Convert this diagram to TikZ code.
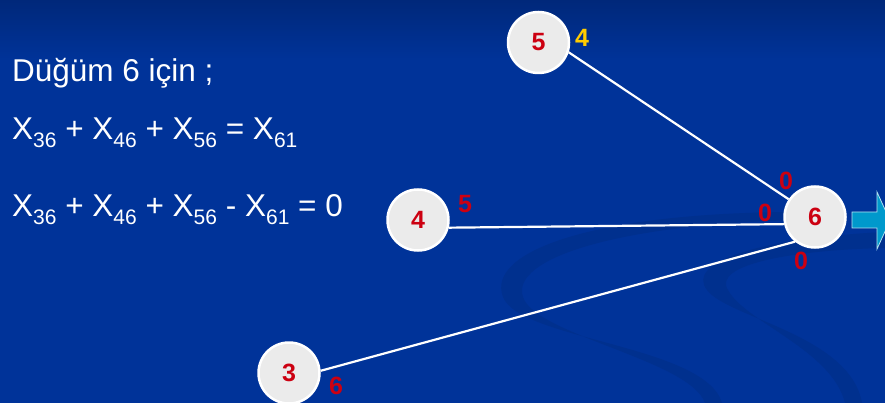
\documentclass[tikz,border=0pt]{standalone}
\usepackage{fontspec}
\setmainfont{Liberation Sans}
\definecolor{bgblue}{HTML}{003399}
\definecolor{bgtop}{HTML}{00287A}
\definecolor{swirl}{HTML}{00308E}
\definecolor{numred}{HTML}{CC0011}
\definecolor{numyellow}{HTML}{FFCC00}
\definecolor{arrowcyan}{HTML}{0099CC}
\definecolor{nodegray}{HTML}{EBEBEB}
\newcommand{\subx}[1]{\raisebox{-8pt}{\fontsize{21}{21}\selectfont #1}}
\begin{document}
\begin{tikzpicture}[x=1pt,y=-1pt,
  vertex/.style={circle,draw=white,line width=2.5pt,fill=nodegray,minimum size=61pt,inner sep=0pt,
    text=numred,font=\fontsize{25}{25}\selectfont\bfseries},
  lab/.style={inner sep=0pt,text=numred,font=\fontsize{25}{25}\selectfont\bfseries},
  edge/.style={draw=white,line width=2.2pt},
  eqtext/.style={anchor=base west,inner sep=0pt,text=white,font=\fontsize{31.5}{36}\selectfont}]
\useasboundingbox (0,0) rectangle (885,403);
% background
\fill[bgblue] (0,0) rectangle (885,403);
\shade[top color=bgtop,bottom color=bgblue] (0,0) rectangle (885,60);
% swirls
\fill[swirl] (800,212) .. controls (600,212) and (485,250) .. (503,297)
  .. controls (520,340) and (705,345) .. (722,403) -- (705,403)
  .. controls (690,360) and (535,335) .. (523,297)
  .. controls (510,258) and (620,224) .. (800,220) -- cycle;
\fill[swirl] (885,232) .. controls (760,238) and (685,262) .. (707,290)
  .. controls (728,318) and (850,335) .. (862,403) -- (845,403)
  .. controls (832,350) and (745,322) .. (728,290)
  .. controls (712,265) and (790,250) .. (885,248) -- cycle;
% texts
\node[eqtext] (t1) at (12,82) {Düğüm 6 için ;};
\node[eqtext] (t2) at (12,140) {X\subx{36} + X\subx{46} + X\subx{56} = X\subx{61}};
\node[eqtext] (t3) at (12,217) {X\subx{36} + X\subx{46} + X\subx{56} - X\subx{61} = 0};
% nodes
\node[vertex] (n5) at (538.5,42.5) {5};
\node[vertex] (n4) at (418,220) {4};
\node[vertex] (n3) at (289,373) {3};
\node[vertex] (n6) at (815,217) {6};
% edges
\draw[edge] (n5.-18) -- (n6.146);
\draw[edge] (n4.-14) -- (n6.193);
\draw[edge] (n3.4) -- (n6.231);
% labels
\node[lab,text=numyellow] (l5) at (582,38) {4};
\node[lab] (l4) at (465,204) {5};
\node[lab] (l3) at (336,386) {6};
\node[lab] (l6a) at (786,181) {0};
\node[lab] (l6b) at (765,213) {0};
\node[lab] (l6c) at (801,261) {0};
% outgoing arrow
\fill[arrowcyan,draw=white!70!arrowcyan,line width=0.8pt]
  (852,212) -- (877,212) -- (877,192) -- (890,220.5) -- (877,249) -- (877,228) -- (852,228) -- cycle;
\end{tikzpicture}
\end{document}
